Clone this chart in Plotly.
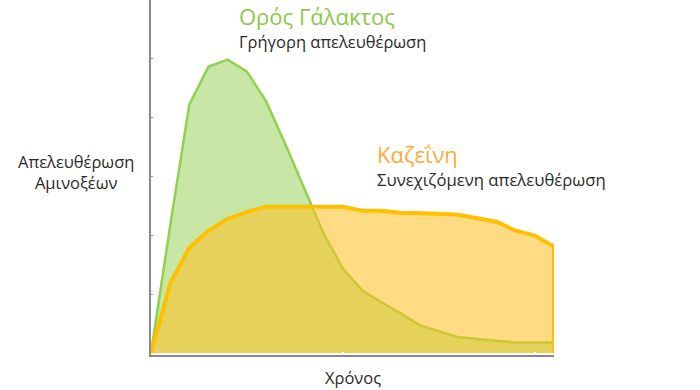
import plotly.graph_objects as go

# Time steps (arbitrary units)
time = list(range(22))

# Amino-acid release (arbitrary units)
whey = [0, 128, 250, 288, 295, 283, 253, 210, 165, 120, 85, 63, 51, 40, 28, 22,
        16, 14, 12.5, 10.5, 10.5, 10.5]
casein = [0, 70, 106, 123, 135, 142, 147, 147, 147, 147, 147, 143, 143, 141, 141,
          140, 139, 136, 132, 123, 118, 107]

whey_name = "Ορός Γάλακτος"
whey_sub = "Γρήγορη απελευθέρωση"
casein_name = "Καζεΐνη"
casein_sub = "Συνεχιζόμενη απελευθέρωση"
y_title = "Απελευθέρωση<br>Αμινοξέων"
x_title = "Χρόνος"

FONT = "Open Sans"

fig = go.Figure()
fig.add_trace(go.Scatter(
    x=time, y=whey, mode="lines", fill="tozeroy",
    line=dict(color="#92d050", width=2.5),
    fillcolor="rgba(146,208,80,0.5)", hoverinfo="skip", showlegend=False))
fig.add_trace(go.Scatter(
    x=time, y=casein, mode="none", fill="tozeroy",
    fillcolor="rgba(255,192,30,0.55)", hoverinfo="skip", showlegend=False))
fig.add_trace(go.Scatter(
    x=time + [time[-1]], y=casein + [0], mode="lines",
    line=dict(color="#ffc000", width=4), hoverinfo="skip", showlegend=False))

PX_L, PX_R = 151, 554
PX_B = 355


def px(xp):
    return (xp - PX_L) / (PX_R - PX_L)


def py(yp):
    return (PX_B - yp) / PX_B


ann = [
    dict(text=whey_name, x=px(238), y=py(16), size=22, color="#8cc84b", xa="left"),
    dict(text=whey_sub, x=px(238), y=py(42), size=16.5, color="#2a2a2a", xa="left"),
    dict(text=casein_name, x=px(376), y=py(154), size=22, color="#fbab3c", xa="left"),
    dict(text=casein_sub, x=px(376), y=py(179), size=16.7, color="#2a2a2a", xa="left"),
    dict(text=y_title, x=px(76), y=py(172), size=16.5, color="#2a2a2a", xa="center"),
    dict(text=x_title, x=px(353), y=py(378), size=16.5, color="#2a2a2a", xa="center"),
]

fig.update_layout(
    width=700, height=390,
    margin=dict(l=PX_L, r=700 - PX_R, t=0, b=390 - PX_B),
    paper_bgcolor="white", plot_bgcolor="white",
    font=dict(family=FONT),
    xaxis=dict(range=[0, 21], showgrid=False, zeroline=False,
               showline=True, linecolor="#8a8a8a", linewidth=2,
               ticks="inside", tickvals=[10, 20], tickcolor="white",
               ticklen=3, tickwidth=2, showticklabels=False),
    yaxis=dict(range=[-2, 355], showgrid=False, zeroline=False,
               showline=True, linecolor="#8a8a8a", linewidth=2,
               ticks="inside", tickvals=[59, 118, 178, 237, 296],
               tickcolor="#9a9a9a", ticklen=2, tickwidth=1,
               showticklabels=False),
    annotations=[dict(text=a["text"], x=a["x"], y=a["y"], xref="paper", yref="paper",
                      xanchor=a["xa"], yanchor="middle", showarrow=False,
                      align="center", borderpad=0,
                      font=dict(family=FONT, size=a["size"], color=a["color"]))
                 for a in ann],
)

fig.write_html("out.html",
               config={"displayModeBar": False},
               post_script="document.body.style.margin='0px';"
                           "document.body.style.overflow='hidden';")
